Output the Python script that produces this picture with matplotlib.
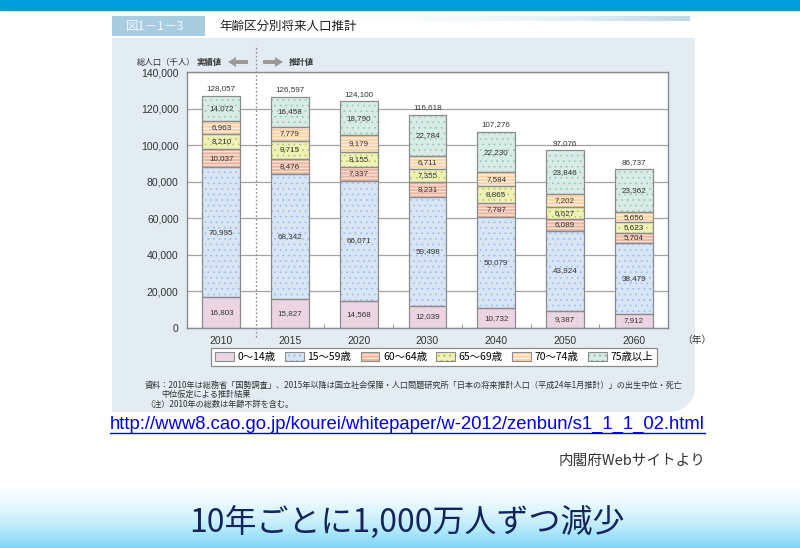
import numpy as np
import matplotlib.pyplot as plt
from matplotlib.patches import Rectangle, Circle, FancyArrow, Patch
from matplotlib.colors import LinearSegmentedColormap
from matplotlib.ticker import FuncFormatter

plt.rcParams['font.family'] = ['Noto Sans CJK JP', 'DejaVu Sans']
plt.rcParams['hatch.linewidth'] = 0.9

# data (thousand persons)
years = ['2010', '2015', '2020', '2030', '2040', '2050', '2060']
age_groups = ['0～14歳', '15～59歳', '60～64歳', '65～69歳', '70～74歳', '75歳以上']
age_0_14 = [16803, 15827, 14568, 12039, 10732, 9387, 7912]
age_15_59 = [70995, 68342, 66071, 59498, 50079, 43924, 38479]
age_60_64 = [10037, 8476, 7337, 8231, 7787, 6089, 5704]
age_65_69 = [8210, 9715, 8155, 7355, 8865, 6627, 5623]
age_70_74 = [6963, 7779, 9179, 6711, 7584, 7202, 5656]
age_75_up = [14072, 16458, 18790, 22784, 22230, 23846, 23362]
totals = [128057, 126597, 124100, 116618, 107276, 97076, 86737]

series = [age_0_14, age_15_59, age_60_64, age_65_69, age_70_74, age_75_up]
faces = ['#ecd5e3', '#d8e5f5', '#ecb6a1', '#eff2b8', '#fbd2a6', '#d9ebe6']
hatches = [None, '...', '-----', '...', '-----', '...']
hatch_cols = [None, '#9dbbe8', '#fbe6dc', '#bcc84e', '#fff3e6', '#8fc8b7']
hatch_lw = [0.9, 0.5, 0.9, 0.5, 0.9, 0.5]

W, H = 800, 548
fig = plt.figure(figsize=(8, 5.48), dpi=100)

# background drawing in pixel coords
bg = fig.add_axes([0, 0, 1, 1])
bg.set_xlim(0, W)
bg.set_ylim(H, 0)
bg.axis('off')

bg.add_patch(Rectangle((0, 0), W, 10, color='#009edb'))

# panel
panel = '#e3edf1'
bg.add_patch(Rectangle((112, 38), 583 - 25, 374, color=panel, lw=0))
bg.add_patch(Rectangle((112, 38), 583, 374 - 25, color=panel, lw=0))
bg.add_patch(Circle((670, 387), 25, color=panel, lw=0))

# header
bg.add_patch(Rectangle((112, 16), 93, 20, color='#a8cde0', lw=0))
grad = np.linspace(0, 1, 200).reshape(1, -1) ** 3
bg.imshow(grad, extent=(205, 690, 21, 16), cmap=LinearSegmentedColormap.from_list('h', ['#ffffff', '#bcd8e6']),
          aspect='auto', zorder=1)
bg.text(126, 26.5, '図1－1－3', fontsize=9, color='#f2f8fb', va='center', ha='left')
bg.text(219, 26.5, '年齢区分別将来人口推計', fontsize=9, color='#222222', va='center', ha='left')

# axis header
bg.text(137, 62, '総人口（千人）', fontsize=6, color='#333333', va='center', ha='left')
bg.text(197, 62, '実績値', fontsize=6, color='#333333', va='center', ha='left', fontweight='bold')
bg.text(289, 62, '推計値', fontsize=6, color='#333333', va='center', ha='left', fontweight='bold')
bg.add_patch(FancyArrow(248, 62, -20, 0, width=4, head_width=10, head_length=8,
                        length_includes_head=True, color='#9a9a9a', lw=0))
bg.add_patch(FancyArrow(263, 62, 20, 0, width=4, head_width=10, head_length=8,
                        length_includes_head=True, color='#9a9a9a', lw=0))

# footnotes
bg.text(145, 385, '資料：2010年は総務省「国勢調査」、2015年以降は国立社会保障・人口問題研究所「日本の将来推計人口（平成24年1月推計）」の出生中位・死亡',
        fontsize=5.9, color='#333333', va='center', ha='left')
bg.text(161, 394, '中位仮定による推計結果', fontsize=5.9, color='#333333', va='center', ha='left')
bg.text(145, 404, '（注）2010年の総数は年齢不詳を含む。', fontsize=5.9, color='#333333', va='center', ha='left')

# url and source
bg.text(110, 424, 'http://www8.cao.go.jp/kourei/whitepaper/w-2012/zenbun/s1_1_1_02.html',
        fontsize=13.3, color='#0000ee', va='center', ha='left', family=['Liberation Sans'])
bg.plot([110, 705], [432.5, 432.5], color='#0000ee', lw=1)
bg.text(705, 461, '内閣府Webサイトより', fontsize=10.5, color='#333333', va='center', ha='right')

# bottom gradient band
band = np.linspace(0, 1, 100).reshape(-1, 1) ** 1.6
cmap_b = LinearSegmentedColormap.from_list('b', ['#ffffff', '#c4eefc', '#7dd5f6'])
bg.imshow(band, extent=(0, W, H, 478), cmap=cmap_b, aspect='auto', zorder=1)
bg.text(407, 523, '10年ごとに1,000万人ずつ減少', fontsize=23, color='#15255c', va='center', ha='center')

# chart
ax = fig.add_axes([187 / W, 1 - 328 / H, (668 - 187) / W, (328 - 72) / H])
ax.set_facecolor('white')
x = np.arange(len(years))
bw = 0.55
bottom = np.zeros(len(years))
num_font = ['Liberation Sans', 'DejaVu Sans']
for vals, fc, h, hc, hl in zip(series, faces, hatches, hatch_cols, hatch_lw):
    vals = np.array(vals)
    ax.bar(x, vals, bw, bottom=bottom, color=fc, lw=0, zorder=2)
    if h:
        with plt.rc_context({'hatch.linewidth': hl}):
            ax.bar(x, vals, bw, bottom=bottom, facecolor='none', edgecolor=hc, hatch=h, lw=0, zorder=3)
    ax.bar(x, vals, bw, bottom=bottom, facecolor='none', edgecolor='#8c8c8c', lw=0.9, zorder=4)
    for xi, b, v in zip(x, bottom, vals):
        ax.text(xi, b + v / 2, f'{v:,}', ha='center', va='center', fontsize=5.8,
                color='#333333', zorder=5, family=num_font)
    bottom = bottom + vals

for xi, top, t in zip(x, bottom, totals):
    ax.annotate(f'{t:,}', (xi, top), xytext=(0, 2.5), textcoords='offset points',
                ha='center', va='bottom', fontsize=5.8, color='#333333', family=num_font)

ax.set_xlim(-0.5, 6.5)
ax.set_ylim(0, 140000)
ax.set_yticks(range(0, 140001, 20000))
ax.yaxis.set_major_formatter(FuncFormatter(lambda v, p: f'{int(v):,}'))
ax.set_xticks(x)
ax.set_xticklabels(years)
ax.set_xticks(x[1:-1] + 0.5, minor=True)
ax.tick_params(axis='both', which='major', length=0, labelsize=7.5, labelcolor='#333333')
ax.tick_params(axis='x', which='major', pad=6)
ax.tick_params(axis='y', which='major', pad=6)
ax.tick_params(axis='x', which='minor', direction='in', length=3, color='#8c8c8c')
for lab in ax.get_xticklabels() + ax.get_yticklabels():
    lab.set_family(num_font)
ax.grid(axis='y', color='#a3a3a3', lw=0.9)
ax.set_axisbelow(True)
for s in ax.spines.values():
    s.set_color('#8c8c8c')
    s.set_linewidth(1)
ax.axvline(0.5, ymin=-0.035, ymax=1.105, clip_on=False, color='#8c8c8c', ls=(0, (1.2, 1.6)), lw=1, zorder=1)
ax.text(1.03, -0.045, '（年）', transform=ax.transAxes, fontsize=7, color='#333333', ha='left', va='center')

handles = []
for fc, h, hc, hl in zip(faces, hatches, hatch_cols, hatch_lw):
    if h:
        with plt.rc_context({'hatch.linewidth': hl}):
            hp = Patch(facecolor='none', edgecolor=hc, hatch=h, lw=0)
        handles.append((Patch(facecolor=fc, lw=0), hp,
                        Patch(facecolor='none', edgecolor='#8c8c8c', lw=0.8)))
    else:
        handles.append(Patch(facecolor=fc, edgecolor='#8c8c8c', lw=0.8))
leg = fig.legend(handles, age_groups, loc='center', bbox_to_anchor=(434 / W, 1 - 357 / H), ncol=6,
                 fontsize=7.5, frameon=True, fancybox=False, edgecolor='#8c8c8c', framealpha=1,
                 handlelength=1.8, handleheight=1.0, handletextpad=0.35, columnspacing=0.9,
                 borderpad=0.35, borderaxespad=0)
leg.get_frame().set_linewidth(0.9)

fig.savefig('out.png', dpi=100)
